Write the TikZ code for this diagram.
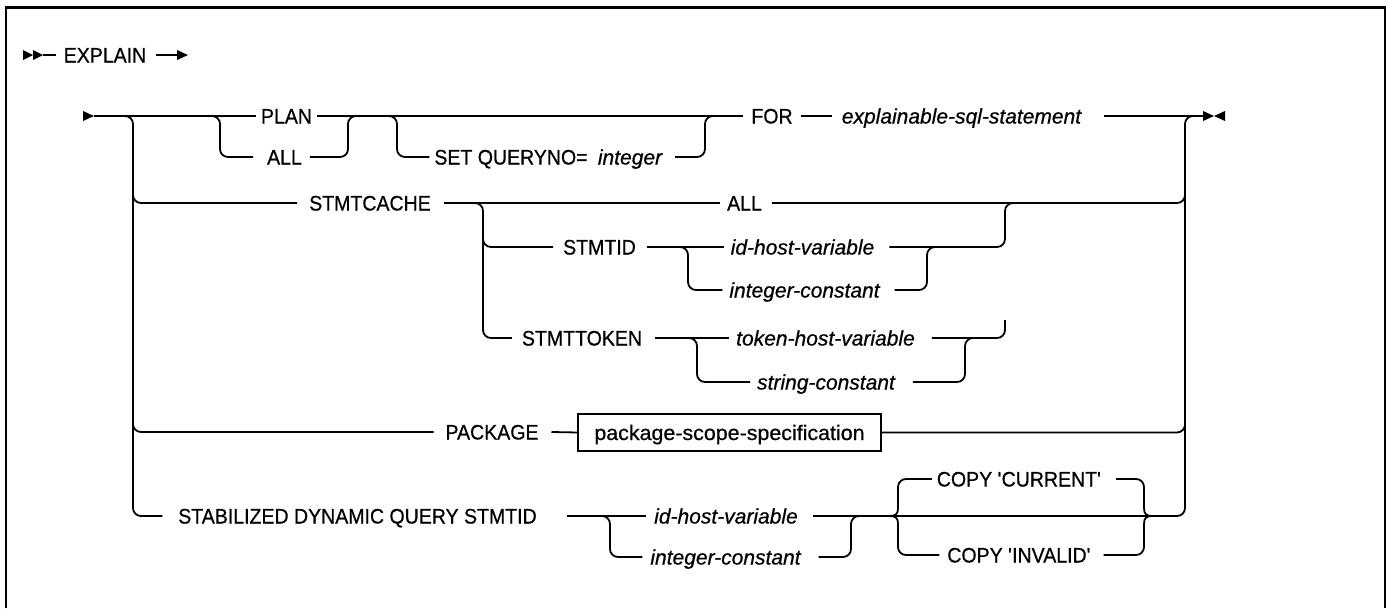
\documentclass[tikz,border=0pt]{standalone}
\usepackage{fontspec}
\setmainfont{Liberation Sans}
\newfontfamily\kwfam{Liberation Sans}[FakeStretch=0.93,FakeBold=0.6]
\newfontfamily\varfam{Liberation Sans}[FakeStretch=1.0,FakeBold=0.6]
\newfontfamily\boxfam{Liberation Sans}[FakeStretch=1.02,FakeBold=0.6]
\newcommand\kwf{\kwfam\fontsize{21}{25}\selectfont}
\newcommand\varf{\varfam\itshape\fontsize{21}{25}\selectfont}
\newcommand\boxf{\boxfam\fontsize{21}{25}\selectfont}
\newcommand\sq{\textquotesingle}
\tikzset{
  lbl/.style={inner sep=0pt, outer sep=0pt, text height=15pt, text depth=0pt, font=\kwf},
  vr/.style={lbl, font=\varf},
  boxnode/.style={draw, line width=1.8pt, inner xsep=0pt, inner ysep=11pt, outer sep=0pt,
    text height=15pt, text depth=0pt, minimum width=303pt, font=\boxf},
  ln/.style={line width=1.8pt},
  rr/.style={line width=1.8pt, rounded corners=8pt},
  frame/.style={line width=2.4pt}
}
\begin{document}
\begin{tikzpicture}[x=1pt,y=-1pt]
\useasboundingbox (0,0) rectangle (1388,608);
\fill[white] (0,0) rectangle (1388,608);
% frame
\draw[frame] (6,608) -- (6,7.5) -- (1385,7.5) -- (1385,608);

% ---------- header ----------
\node[lbl] (explain) at (105,55) {EXPLAIN};
\fill (23,50) -- (33,55) -- (23,60) -- cycle;
\fill (33,50) -- (43,55) -- (33,60) -- cycle;
\draw[ln] (43,55) -- ([xshift=-8pt]explain.west);
\coordinate (hdrend) at (188,55);
\draw[ln] ([xshift=10pt]explain.east) -- (178,55);
\fill (177,50) -- (hdrend) -- (177,60) -- cycle;

% ---------- labels ----------
\node[lbl] (plan)  at (286.5,116) {PLAN};
\node[lbl] (all1)  at (284.5,157) {ALL};
\node[lbl] (setq)  at (511,157) {SET QUERYNO=};
\node[vr]  (intg)  at (630,157) {integer};
\node[lbl] (for)   at (772,116) {FOR};
\node[vr]  (expl)  at (961.5,116) {explainable-sql-statement};

\node[lbl] (stc)     at (370,203) {STMTCACHE};
\node[lbl] (all2)    at (744.5,203) {ALL};
\node[lbl] (stmtid)  at (599.5,247) {STMTID};
\node[vr]  (idhv1)   at (802.5,247) {id-host-variable};
\node[vr]  (intc1)   at (804.5,290) {integer-constant};
\node[lbl] (stmttok) at (582,338) {STMTTOKEN};
\node[vr]  (tokhv)   at (825.5,338) {token-host-variable};
\node[vr]  (strc)    at (826,382) {string-constant};

\node[lbl] (pkg) at (492,432) {PACKAGE};
\node[boxnode] (pss) at (729.5,432.5) {package-scope-specification};

\node[lbl] (stab)  at (357.5,516) {STABILIZED DYNAMIC QUERY STMTID};
\node[vr]  (idhv2) at (726,516) {id-host-variable};
\node[vr]  (intc2) at (725.5,557) {integer-constant};
\node[lbl] (copyc) at (1019,479) {COPY \sq CURRENT\sq};
\node[lbl] (copyi) at (1019,555) {COPY \sq INVALID\sq};

% ---------- main row ----------
\fill (83,111) -- (94,116) -- (83,121) -- cycle;
\draw[ln] (94,116) -- ([xshift=-5pt]plan.west);
\draw[ln] ([xshift=5pt]plan.east) -- ([xshift=-8pt]for.west);
\draw[rr] (205,116) -| (220,157) -- ([xshift=-14pt]all1.west);
\draw[rr] ([xshift=8pt]all1.east) -| (348,116) -- (360,116);
\draw[rr] (380,116) -| (397,157) -- ([xshift=-5pt]setq.west);
\draw[rr] ([xshift=13pt]intg.east) -| (705,116) -- (715,116);
\draw[ln] ([xshift=8pt]for.east) -- ([xshift=-10pt]expl.west);
\draw[ln] ([xshift=23pt]expl.east) -- (1203,116);
\fill (1203,111) -- (1214,116) -- (1203,121) -- cycle;
\fill (1225,111) -- (1214,116) -- (1225,121) -- cycle;

% ---------- left trunk ----------
\draw[rr] (117,116) -| (133,516) -- ([xshift=-16pt]stab.west);
\draw[rr] (133,190) |- ([xshift=-12pt]stc.west);
\draw[rr] (133,419) |- ([xshift=-12pt]pkg.west);

% ---------- right trunk ----------
\draw[rr] (1152,516) -| (1185,116) -- (1203,116);

% ---------- STMTCACHE ----------
\draw[ln] ([xshift=13pt]stc.east) -- ([xshift=-7pt]all2.west);
\draw[rr] ([xshift=10pt]all2.east) -| (1185,190);
\draw[rr] (470,203) -| (483,338) -- ([xshift=-10pt]stmttok.west);
\draw[rr] (483,234) |- ([xshift=-10pt]stmtid.west);
\draw[ln] ([xshift=11pt]stmtid.east) -- ([xshift=-7pt]idhv1.west);
\draw[rr] (672,247) -| (688,290) -- ([xshift=-7pt]intc1.west);
\draw[rr] ([xshift=15pt]idhv1.east) -| (1005,203) -- (1015,203);
\draw[rr] ([xshift=15pt]intc1.east) -| (927,247) -- (937,247);
\draw[ln] ([xshift=13pt]stmttok.east) -- ([xshift=-7pt]tokhv.west);
\draw[rr] (680,338) -| (697,382) -- ([xshift=-7pt]strc.west);
\draw[rr] ([xshift=17pt]tokhv.east) -| (1005,320);
\draw[rr] ([xshift=18pt]strc.east) -| (965,338) -- (975,338);

% ---------- PACKAGE ----------
\draw[ln] ([xshift=13pt]pkg.east) -- (pss.west);
\draw[rr] (pss.east) -| (1185,418);

% ---------- STABILIZED ----------
\draw[ln] ([xshift=30pt]stab.east) -- ([xshift=-8pt]idhv2.west);
\draw[rr] (595,516) -| (610,557) -- ([xshift=-8pt]intc2.west);
\draw[ln] ([xshift=15pt]idhv2.east) -- (1152,516);
\draw[rr] ([xshift=18pt]intc2.east) -| (851,516) -- (860,516);
% left brace
\draw[ln] (889,516) .. controls (896,516) and (898,514) .. (898,508);
\draw[rr] (898,508.5) |- ([xshift=-5pt]copyc.west);
\draw[ln] (889,516) .. controls (896,516) and (898,518) .. (898,524);
\draw[rr] (898,523.5) |- ([xshift=-8pt]copyi.west);
% right brace
\draw[rr] ([xshift=15pt]copyc.east) -| (1144,508.5);
\draw[ln] (1144,508) .. controls (1144,514) and (1146,516) .. (1153,516);
\draw[rr] ([xshift=13pt]copyi.east) -| (1144,523.5);
\draw[ln] (1144,524) .. controls (1144,518) and (1146,516) .. (1153,516);
\end{tikzpicture}
\end{document}
